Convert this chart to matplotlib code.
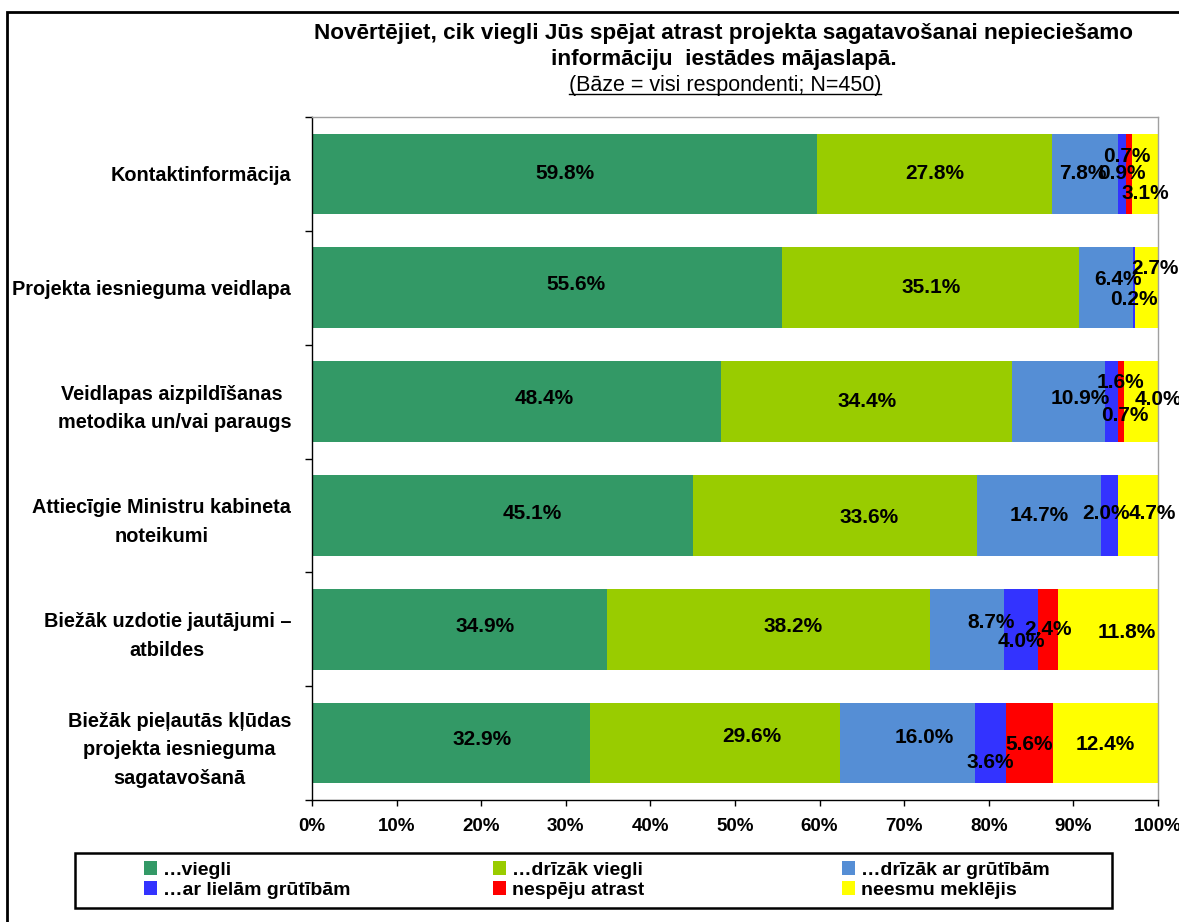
import matplotlib
matplotlib.use('Agg')
import matplotlib.pyplot as plt
import numpy as np
from matplotlib.patches import Rectangle, Patch
from matplotlib.lines import Line2D

plt.rcParams['font.family'] = ['Liberation Sans', 'DejaVu Sans']

# ---------------- data ----------------
categories = [
    'Kontaktinformācija',
    'Projekta iesnieguma veidlapa',
    'Veidlapas aizpildīšanas \nmetodika un/vai paraugs',
    'Attiecīgie Ministru kabineta\nnoteikumi',
    'Biežāk uzdotie jautājumi –\natbildes',
    'Biežāk pieļautās kļūdas\nprojekta iesnieguma\nsagatavošanā',
]
series_names = ['…viegli', '…drīzāk viegli', '…drīzāk ar grūtībām',
                '…ar lielām grūtībām', 'nespēju atrast', 'neesmu meklējis']
viegli        = [59.8, 55.6, 48.4, 45.1, 34.9, 32.9]
drizak_viegli = [27.8, 35.1, 34.4, 33.6, 38.2, 29.6]
drizak_gruti  = [7.8, 6.4, 10.9, 14.7, 8.7, 16.0]
lielam_gruti  = [0.9, 0.2, 1.6, 2.0, 4.0, 3.6]
nespeju       = [0.7, 0.0, 0.7, 0.0, 2.4, 5.6]
neesmu        = [3.1, 2.7, 4.0, 4.7, 11.8, 12.4]
x_ticks = [0, 10, 20, 30, 40, 50, 60, 70, 80, 90, 100]
x_tick_labels = ['0%', '10%', '20%', '30%', '40%', '50%', '60%', '70%', '80%', '90%', '100%']

title_lines = ['Novērtējiet, cik viegli Jūs spējat atrast projekta sagatavošanai nepieciešamo',
               'informāciju  iestādes mājaslapā.']
subtitle = '(Bāze = visi respondenti; N=450)'

# ---------------- style ----------------
colors = ['#339966', '#99CC00', '#558ED5', '#3333FF', '#FF0000', '#FFFF00']
# manual label nudges (pixels: dx right, dy down), like the hand-moved labels in the original
label_nudge = {
    (0, 2): (-3, 0), (0, 4): (-2, -17), (0, 5): (0, 20),
    (1, 0): (29, -3), (1, 2): (12, -8), (1, 3): (0, 12), (1, 5): (8, -19),
    (2, 0): (27, -3), (2, 2): (22, -3), (2, 3): (9, -19), (2, 4): (4, 14), (2, 5): (17, -2),
    (3, 0): (30, -2), (3, 1): (34, 2), (3, 3): (-4, -2), (3, 5): (14, -2),
    (4, 0): (25, -3), (4, 1): (24, -3), (4, 2): (24, -7), (4, 3): (0, 12), (4, 5): (19, 3),
    (5, 0): (31, -4), (5, 1): (37, -7), (5, 2): (16, -6), (5, 3): (0, 19), (5, 4): (0, 1), (5, 5): (0, 1),
}

W, H = 1179, 922
fig = plt.figure(figsize=(W / 100, H / 100), dpi=100)
fig.patch.set_facecolor('white')

ax = fig.add_axes([312 / W, 1 - 800 / H, (1158 - 312) / W, (800 - 117) / H])

values = np.array([viegli, drizak_viegli, drizak_gruti, lielam_gruti, nespeju, neesmu])  # series x rows
shares = values / values.sum(axis=0) * 100.0
y = np.arange(len(categories))
left = np.zeros(len(categories))
for s in range(len(series_names)):
    ax.barh(y, shares[s], left=left, height=0.71, color=colors[s], edgecolor='none',
            label=series_names[s], zorder=2)
    for r in range(len(categories)):
        v = values[s, r]
        if v <= 0:
            continue
        cx = left[r] + shares[s, r] / 2
        dx, dy = label_nudge.get((r, s), (0, 0))
        ax.annotate(f'{v:.1f}%', xy=(cx, y[r]), xytext=(dx, -dy), textcoords='offset pixels',
                    ha='center', va='center', fontsize=15, fontweight='bold', color='black',
                    zorder=5, annotation_clip=False)
    left = left + shares[s]

ax.set_xlim(0, 100)
ax.set_ylim(len(categories) - 0.5, -0.5)
ax.set_xticks(x_ticks)
ax.set_xticklabels(x_tick_labels, fontsize=13.5, fontweight='bold')
ax.set_yticks(y)
ax.set_yticklabels(categories, fontsize=14.3, fontweight='bold', multialignment='center')
for lab in ax.get_yticklabels():
    lab.set_linespacing(1.62)
ax.set_yticks(np.arange(-0.5, len(categories), 1.0), minor=True)
ax.tick_params(axis='y', which='major', length=0, pad=15)
ax.tick_params(axis='y', which='minor', length=5, width=1, direction='out', color='black')
ax.tick_params(axis='x', which='major', length=4, width=1, direction='out', pad=9, color='black')
for side in ['top', 'right']:
    ax.spines[side].set_color('#A0A0A0')
    ax.spines[side].set_linewidth(1)
for side in ['left', 'bottom']:
    ax.spines[side].set_color('black')
    ax.spines[side].set_linewidth(1)

# ---------------- titles ----------------
fig.text(724 / W, 1 - 33 / H, title_lines[0], ha='center', va='center', fontsize=16.2, fontweight='bold')
fig.text(724 / W, 1 - 59 / H, title_lines[1], ha='center', va='center', fontsize=16.2, fontweight='bold')
st = fig.text(725 / W, 1 - 85 / H, subtitle, ha='center', va='center', fontsize=15.5)

# ---------------- legend (three columns) ----------------
handles = [Patch(facecolor=c, edgecolor='none') for c in colors]
col_x = [144, 493, 842]
col_entries = [[0, 3], [1, 4], [2, 5]]
for cx_px, idxs in zip(col_x, col_entries):
    fig.legend([handles[i] for i in idxs], [series_names[i] for i in idxs],
               loc='center left', bbox_to_anchor=(cx_px / W, 1 - 880 / H),
               frameon=False, prop={'weight': 'bold', 'size': 14},
               handlelength=0.68, handleheight=0.72, handletextpad=0.3,
               labelspacing=0.1, borderpad=0, borderaxespad=0)

fig.add_artist(Rectangle((75 / W, 1 - 908 / H), (1112 - 75) / W, (908 - 853) / H,
                         transform=fig.transFigure, fill=False, edgecolor='black', linewidth=1.8))
# outer chart frame
fig.add_artist(Rectangle((7 / W, -0.05), 1.2, 1 - 12 / H + 0.05,
                         transform=fig.transFigure, fill=False, edgecolor='black', linewidth=2))

# underline for subtitle
fig.canvas.draw()
bb = st.get_window_extent(fig.canvas.get_renderer())
uy = bb.y0 + 1
fig.add_artist(Line2D([bb.x0 / W, bb.x1 / W], [uy / H, uy / H], transform=fig.transFigure,
                      color='black', linewidth=1))

fig.savefig('out.png', dpi=100)
